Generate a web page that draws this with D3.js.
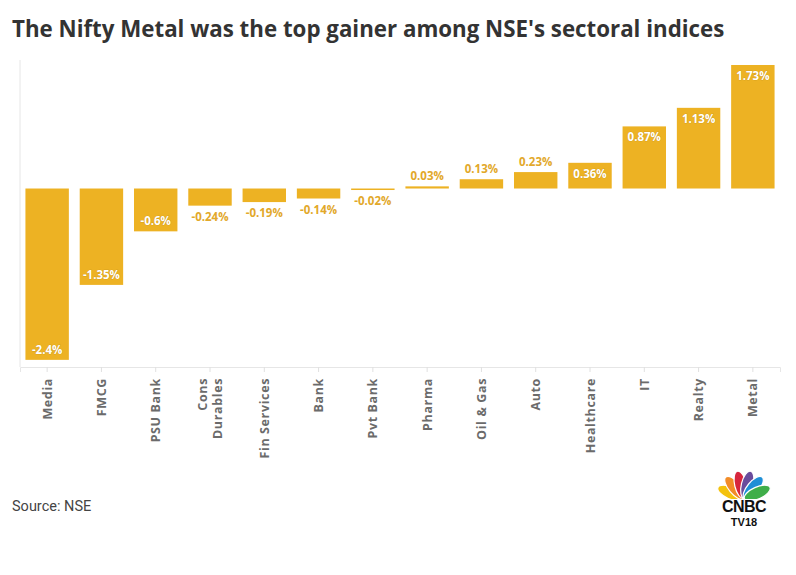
<!DOCTYPE html>
<html>
<head>
<meta charset="utf-8">
<script src="https://cdn.jsdelivr.net/npm/d3@7"></script>
<style>
  html, body { margin: 0; padding: 0; background: #fff; }
  svg { display: block; }
</style>
</head>
<body>
<svg id="chart" width="796" height="575"></svg>
<script>
// sectoral index moves
const SECTORS = ["Media", "FMCG", "PSU Bank", "Cons Durables", "Fin Services", "Bank", "Pvt Bank",
  "Pharma", "Oil & Gas", "Auto", "Healthcare", "IT", "Realty", "Metal"];
const CHANGES = [-2.4, -1.35, -0.6, -0.24, -0.19, -0.14, -0.02, 0.03, 0.13, 0.23, 0.36, 0.87, 1.13, 1.73];
const LABELS = ["-2.4%", "-1.35%", "-0.6%", "-0.24%", "-0.19%", "-0.14%", "-0.02%",
  "0.03%", "0.13%", "0.23%", "0.36%", "0.87%", "1.13%", "1.73%"];
const Y_DOMAIN = [-2.5, 1.8];

const BAR = "#edb223";
const LABEL_OUT = "#e2a82a";
const FONT = "'Open Sans', 'Noto Sans', sans-serif";

const svg = d3.select("#chart");
const W = 796, H = 575;
const m = { top: 60, right: 16, bottom: 208, left: 20 };

// title + source
svg.append("text")
  .attr("x", 12).attr("y", 37)
  .attr("font-family", FONT).attr("font-weight", 700).attr("font-size", 22.3)
  .attr("fill", "#333")
  .text("The Nifty Metal was the top gainer among NSE's sectoral indices");

svg.append("text")
  .attr("x", 12).attr("y", 511)
  .attr("font-family", "'Liberation Sans Narrow', 'Roboto', sans-serif").attr("font-size", 14.5)
  .attr("fill", "#444")
  .text("Source: NSE");

const x = d3.scaleBand().domain(SECTORS).range([m.left, W - m.right]).paddingInner(0.2).paddingOuter(0.1);
const y = d3.scaleLinear().domain(Y_DOMAIN).range([H - m.bottom, m.top]);

const data = SECTORS.map((s, i) => ({ s, v: CHANGES[i], label: LABELS[i] }));

// frame lines
svg.append("line")
  .attr("x1", m.left).attr("x2", m.left).attr("y1", m.top).attr("y2", y.range()[0])
  .attr("stroke", "#e6e6e6");

const xAxis = svg.append("g")
  .attr("transform", `translate(0,${y.range()[0]})`)
  .call(d3.axisBottom(x).tickSizeOuter(0).tickSize(5).tickFormat(""));
xAxis.select(".domain").attr("stroke", "#e6e6e6");
xAxis.selectAll(".tick line").attr("stroke", "#e0e0e0");

// rotated category labels (Cons Durables wraps onto two lines)
const tickG = xAxis.selectAll(".tick");
tickG.append("text")
  .attr("transform", "rotate(-90)")
  .attr("text-anchor", "end")
  .attr("font-family", FONT).attr("font-weight", 700).attr("font-size", 12.5)
  .attr("fill", "#6b6b6b")
  .attr("letter-spacing", "0.05em")
  .each(function (d) {
    const lines = d === "Cons Durables" ? ["Cons", "Durables"] : [d];
    const t = d3.select(this);
    lines.forEach((ln, k) => {
      t.append("tspan")
        .attr("x", -11)
        .attr("y", (k - (lines.length - 1) / 2) * 15 + 4.5)
        .text(ln);
    });
  });

// bars
svg.append("g").selectAll("rect").data(data).join("rect")
  .attr("x", (d) => x(d.s))
  .attr("width", x.bandwidth())
  .attr("y", (d) => y(Math.max(0, d.v)))
  .attr("height", (d) => Math.max(1.5, Math.abs(y(d.v) - y(0))))
  .attr("fill", BAR);

// value labels: inside the bar end when it fits, outside otherwise
const inside = (d) => Math.abs(y(d.v) - y(0)) > 22;
svg.append("g").selectAll("text").data(data).join("text")
  .attr("x", (d) => x(d.s) + x.bandwidth() / 2)
  .attr("y", (d) => {
    const end = y(d.v);
    if (inside(d)) return d.v >= 0 ? end + 15 : end - 6;
    return d.v >= 0 ? end - 6 : end + 15;
  })
  .attr("text-anchor", "middle")
  .attr("font-family", FONT).attr("font-weight", 700).attr("font-size", 11.5)
  .attr("fill", (d) => (inside(d) ? "#fff" : LABEL_OUT))
  .attr("stroke", (d) => (inside(d) ? "#c8921a" : "none"))
  .attr("stroke-width", 0.6)
  .attr("paint-order", "stroke")
  .text((d) => d.label);

// CNBC-TV18 peacock mark
const logo = svg.append("g").attr("transform", "translate(744,499)");
const FEATHERS = ["#f4c20d", "#f28c28", "#d7263d", "#6a4c9c", "#1f8fd6", "#3fae49"];
const ang = d3.scaleLinear().domain([0, FEATHERS.length - 1]).range([-66, 66]);
logo.selectAll("ellipse").data(FEATHERS).join("ellipse")
  .attr("cx", 0).attr("cy", -14.5).attr("rx", 6).attr("ry", 14)
  .attr("transform", (d, i) => `rotate(${ang(i)},0,0)`)
  .attr("fill", (d) => d)
  .attr("stroke", "#fff").attr("stroke-width", 1.2);
logo.append("rect").attr("x", -30).attr("y", 0).attr("width", 60).attr("height", 28).attr("fill", "#fff");
logo.append("text").attr("x", 0).attr("y", 13).attr("text-anchor", "middle")
  .attr("font-family", "'Liberation Sans', Arial, sans-serif").attr("font-weight", 700).attr("font-size", 16)
  .attr("letter-spacing", "-0.5").attr("fill", "#111").text("CNBC");
logo.append("text").attr("x", 0).attr("y", 27).attr("text-anchor", "middle")
  .attr("font-family", "'Liberation Sans', Arial, sans-serif").attr("font-weight", 700).attr("font-size", 11)
  .attr("fill", "#111").text("TV18");
</script>
</body>
</html>
